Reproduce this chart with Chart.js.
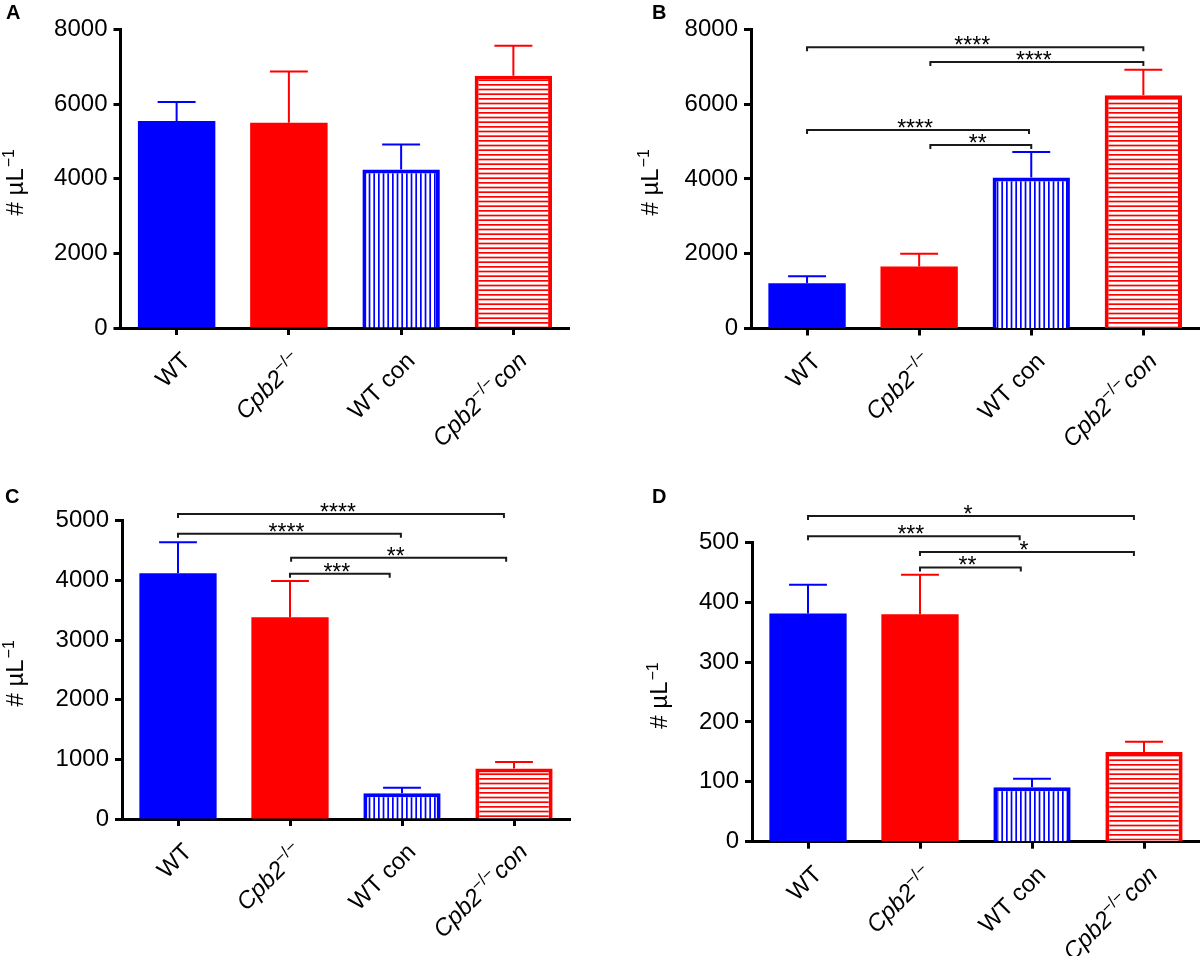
<!DOCTYPE html>
<html lang="en">
<head>
<meta charset="UTF-8">
<title>Cpb2 cell counts</title>
<script src="https://cdn.jsdelivr.net/npm/chart.js"></script>
<style>
  body { margin: 0; background: #fff; }
  #wrap { position: relative; width: 1200px; height: 956px; }
  canvas { position: absolute; }
</style>
</head>
<body>
<div id="wrap">
  <canvas id="chartA" width="600" height="470" style="left:0;top:0"></canvas>
  <canvas id="chartB" width="600" height="470" style="left:600px;top:0"></canvas>
  <canvas id="chartC" width="600" height="486" style="left:0;top:470px"></canvas>
  <canvas id="chartD" width="600" height="486" style="left:600px;top:470px"></canvas>
</div>
<script>
// ---- data ----
const categories = ['WT', 'Cpb2−/−', 'WT con', 'Cpb2−/− con'];
// label pieces so the gene name can be italic with a superscript
const categoryParts = [
  [['WT', '']],
  [['Cpb2', 'i'], ['−/−', 'sup']],
  [['WT con', '']],
  [['Cpb2', 'i'], ['−/−', 'sup'], ['con', 'i']]
];
const barColors = ['#0000ff', '#ff0000', '#0000ff', '#ff0000'];
const barFills = ['solid', 'solid', 'vlines', 'hlines'];

const meanA = [5550, 5500, 4250, 6760];
const semA = [510, 1375, 670, 805];
const meanB = [1210, 1660, 4040, 6235];
const semB = [190, 340, 680, 685];
const meanC = [4120, 3380, 430, 845];
const semC = [520, 610, 95, 110];
const meanD = [381, 380, 91, 150];
const semD = [48, 66, 14, 17];

// significance brackets: [from category, to category, height, stars]
const bracketsB = [[0, 3, 7520, '****'], [1.1, 3, 7125, '****'], [0, 1.98, 5305, '****'], [1.1, 2, 4905, '**']];
const bracketsC = [[0, 2.91, 5112, '****'], [0, 1.99, 4782, '****'], [1.01, 2.93, 4380, '**'], [1, 1.89, 4112, '***']];
const bracketsD = [[0, 2.91, 544, '*'], [0, 1.89, 510, '***'], [1, 2.91, 484, '*'], [1, 1.9, 458, '**']];

const FAM = '"Liberation Sans", Arial, Helvetica, sans-serif';

// ---- panel layout ----
const panels = [
  { id: 'chartA', letter: 'A', mean: meanA, sem: semA, max: 8000, step: 2000, brackets: [],
    area: { left: 120.5, right: 569.5, top: 29.5, bottom: 328 }, letterPos: [6, 18.5], titleX: 23 },
  { id: 'chartB', letter: 'B', mean: meanB, sem: semB, max: 8000, step: 2000, brackets: bracketsB,
    area: { left: 151, right: 599.4, top: 29.3, bottom: 328.5 }, letterPos: [52, 18.5], titleX: 58 },
  { id: 'chartC', letter: 'C', mean: meanC, sem: semC, max: 5000, step: 1000, brackets: bracketsC,
    area: { left: 122, right: 570, top: 50.7, bottom: 349 }, letterPos: [5, 33], titleX: 23 },
  { id: 'chartD', letter: 'D', mean: meanD, sem: semD, max: 500, step: 100, brackets: bracketsD,
    area: { left: 152, right: 600, top: 72.3, bottom: 371.7 }, letterPos: [52, 33], titleX: 67 }
];

function makePattern(color, vertical) {
  const c = document.createElement('canvas');
  c.width = 14; c.height = 14;
  const g = c.getContext('2d');
  g.fillStyle = '#fff';
  g.fillRect(0, 0, 14, 14);
  g.fillStyle = color;
  for (let k = 0; k < 3; k++) {
    const p = k * 14 / 3;
    if (vertical) g.fillRect(p, 0, 1.7, 14);
    else g.fillRect(0, p, 14, 1.7);
  }
  return g.createPattern(c, 'repeat');
}

function drawCatLabel(ctx, parts, x, y) {
  ctx.save();
  ctx.translate(x, y);
  ctx.rotate(-Math.PI / 4);
  const pieces = parts.map(([t, st]) => {
    const font = st === 'sup' ? `17px ${FAM}` : (st === 'i' ? `italic 24px ${FAM}` : `24px ${FAM}`);
    ctx.font = font;
    return { t, font, w: ctx.measureText(t).width + (st === 'sup' ? 1 : 0), dy: st === 'sup' ? -9 : 0 };
  });
  const total = pieces.reduce((s, p) => s + p.w, 0);
  let cx = -total;
  ctx.fillStyle = '#000';
  ctx.textAlign = 'left';
  ctx.textBaseline = 'alphabetic';
  pieces.forEach(p => {
    ctx.font = p.font;
    ctx.fillText(p.t, cx, 8.5 + p.dy);
    cx += p.w;
  });
  ctx.restore();
}

function drawYTitle(ctx, x, yc) {
  ctx.save();
  ctx.translate(x, yc);
  ctx.rotate(-Math.PI / 2);
  ctx.fillStyle = '#000';
  ctx.textAlign = 'left';
  ctx.textBaseline = 'alphabetic';
  ctx.font = `24px ${FAM}`;
  const w1 = ctx.measureText('# µL').width;
  ctx.font = `16px ${FAM}`;
  const w2 = ctx.measureText('−1').width;
  const start = -(w1 + w2) / 2;
  ctx.font = `24px ${FAM}`;
  ctx.fillText('# µL', start, 0);
  ctx.font = `16px ${FAM}`;
  ctx.fillText('−1', start + w1 + 1, -9);
  ctx.restore();
}

const extrasPlugin = {
  id: 'extras',
  afterDraw(chart) {
    const p = panels.find(q => q.id === chart.canvas.id);
    if (!p) return;
    const ctx = chart.ctx;
    const xs = chart.scales.x, ys = chart.scales.y;
    const x0 = xs.getPixelForValue(0), step = xs.getPixelForValue(1) - x0;
    const catX = pos => x0 + pos * step;
    const barW = step * 0.69;

    // error bars (upper only)
    ctx.save();
    ctx.lineWidth = 2;
    p.mean.forEach((m, i) => {
      const x = catX(i);
      const yTop = ys.getPixelForValue(m + p.sem[i]);
      const yBar = ys.getPixelForValue(m);
      ctx.strokeStyle = barColors[i];
      ctx.beginPath();
      ctx.moveTo(x, yBar);
      ctx.lineTo(x, yTop);
      ctx.moveTo(x - barW * 0.245, yTop);
      ctx.lineTo(x + barW * 0.245, yTop);
      ctx.stroke();
    });
    ctx.restore();

    // significance brackets
    ctx.save();
    ctx.strokeStyle = '#1a1a1a';
    ctx.fillStyle = '#000';
    ctx.lineWidth = 2;
    ctx.font = `23px ${FAM}`;
    ctx.textAlign = 'center';
    ctx.textBaseline = 'alphabetic';
    p.brackets.forEach(([from, to, h, stars]) => {
      const x1 = catX(from), x2 = catX(to), y = ys.getPixelForValue(h);
      ctx.beginPath();
      ctx.moveTo(x1, y + 4);
      ctx.lineTo(x1, y);
      ctx.lineTo(x2, y);
      ctx.lineTo(x2, y + 4);
      ctx.stroke();
      ctx.fillText(stars, (x1 + x2) / 2 - 3, y + 6);
    });
    ctx.restore();

    // category labels
    const bottom = chart.chartArea.bottom;
    categoryParts.forEach((parts, i) => drawCatLabel(ctx, parts, catX(i) + 9, bottom + 28));

    // axis title and panel letter
    drawYTitle(ctx, p.titleX, (chart.chartArea.top + chart.chartArea.bottom) / 2 + 4);
    ctx.save();
    ctx.fillStyle = '#000';
    ctx.font = `bold 20px ${FAM}`;
    ctx.textAlign = 'left';
    ctx.textBaseline = 'alphabetic';
    ctx.fillText(p.letter, p.letterPos[0], p.letterPos[1]);
    ctx.restore();
  }
};

panels.forEach(p => {
  const canvas = document.getElementById(p.id);
  const H = canvas.height, W = canvas.width;
  const fills = barFills.map((f, i) =>
    f === 'solid' ? barColors[i] : makePattern(barColors[i], f === 'vlines'));
  const axisGrid = { display: true, drawOnChartArea: false, offset: false, drawTicks: true,
    tickLength: 7, tickWidth: 3, tickColor: '#000' };
  const axisBorder = { display: true, width: 3, color: '#000' };
  new Chart(canvas.getContext('2d'), {
    type: 'bar',
    data: {
      labels: categories,
      datasets: [{
        data: p.mean,
        backgroundColor: fills,
        borderColor: barColors,
        borderWidth: barFills.map(f => f === 'solid' ? 0 : 4),
        barPercentage: 0.69,
        categoryPercentage: 1
      }]
    },
    options: {
      responsive: false,
      animation: false,
      layout: { padding: { left: 0, top: p.area.top, right: W - p.area.right, bottom: 0 } },
      plugins: { legend: { display: false }, tooltip: { enabled: false } },
      scales: {
        x: {
          z: 1,
          offset: true,
          grid: axisGrid,
          border: axisBorder,
          ticks: { display: false },
          afterFit: s => { s.height = H - p.area.bottom; }
        },
        y: {
          z: 1,
          min: 0,
          max: p.max,
          grid: axisGrid,
          border: axisBorder,
          ticks: {
            stepSize: p.step,
            color: '#000',
            padding: 6,
            font: { family: FAM, size: 24 },
            callback: v => String(v)
          },
          afterFit: s => { s.width = p.area.left; }
        }
      }
    },
    plugins: [extrasPlugin]
  });
});
</script>
</body>
</html>
